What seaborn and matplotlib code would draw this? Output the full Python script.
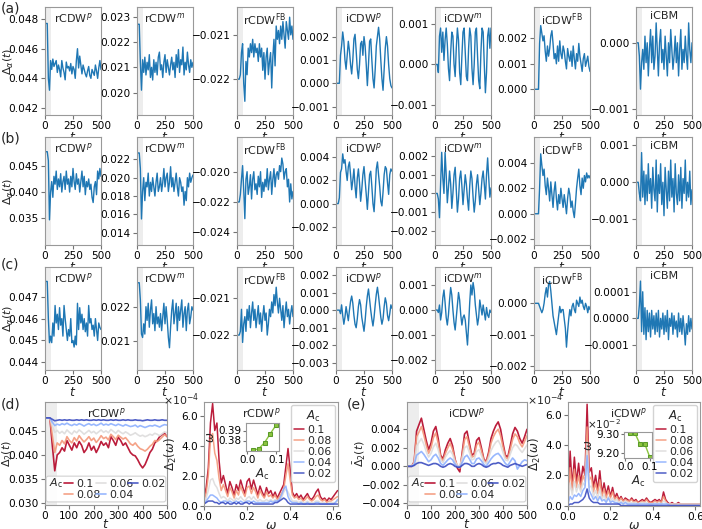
import numpy as np
import pandas as pd
import seaborn as sns
import matplotlib.pyplot as plt
from matplotlib.patches import FancyBboxPatch
from matplotlib.ticker import FuncFormatter

# sampling grids
t = np.arange(0, 501, 10)
omega = np.round(np.arange(0, 63) * 0.01, 2)

# ---------------- rows (a)-(c): values in units of 1e-4 (c7 in 1e-5) ----------------
a1 = [477, 477, 477, 440, 432, 452, 446, 453, 448, 450,
      452, 444, 449, 446, 441, 452, 447, 444, 439, 451,
      447, 448, 445, 450, 443, 448, 446, 440, 452, 460,
      447, 455, 449, 443, 449, 446, 443, 441, 445, 448,
      442, 440, 446, 444, 442, 449, 445, 440, 447, 452,
      446]
a2 = [227, 227, 227, 212, 201, 213, 208, 214, 207, 212,
      209, 215, 206, 210, 205, 213, 208, 212, 207, 214,
      216, 209, 211, 206, 212, 215, 208, 213, 210, 207,
      211, 214, 209, 212, 206, 215, 210, 217, 208, 213,
      211, 218, 207, 212, 209, 216, 211, 208, 213, 210,
      212]
a3 = [-220, -220, -220, -219, -214, -212, -221, -225, -216, -219,
      -213, -215, -212, -214, -211, -215, -212, -214, -213, -216,
      -212, -215, -213, -218, -214, -220, -215, -213, -219, -216,
      -214, -222, -215, -211, -217, -208, -211, -209, -212, -208,
      -211, -207, -210, -213, -207, -209, -211, -206, -210, -208,
      -211]
a4 = [0, 0, 0, 0, 12, 16, 22, 18, 10, 6,
      12, 18, 14, 8, 4, 10, 19, 21, 14, 6,
      2, 8, 17, 18, 12, 20, 16, 8, -1, 8,
      18, 19, 10, 2, -2, 6, 16, 20, 24, 19,
      10, 2, -3, 6, 15, 20, 16, 8, 2, -1,
      -2]
a5 = [0, 0, 0, -2, 7, 9, 3, 8, 1, 6,
      9, 5, -1, -4, 3, 8, 7, 0, -3, 4,
      9, 6, -2, -5, 2, 8, 9, 3, -3, -4,
      4, 9, 7, -1, -5, 0, 8, 9, 2, -4,
      -6, 3, 9, 8, 0, -7, -2, 7, 9, 4,
      9]
a6 = [0, 0, 0, 0, 0, 18, 25, 22, 19, 21,
      15, 11, 17, 13, 16, 21, 23, 18, 12, 14,
      10, 17, 11, 19, 14, 12, 17, 15, 11, 8,
      16, 13, 11, 15, 9, 17, 12, 8, 14, 11,
      18, 13, 10, 7, 12, 14, 9, 11, 13, 9,
      7]
a7 = [0, 0, 0, -2, -7, -3, -1, -4, 1, -3,
      0, -5, -1, 2, -3, 1, -4, -2, 3, -1,
      -5, 0, 2, -3, -1, -4, 1, -2, -5, 0,
      -3, 2, -1, -4, -2, 1, -3, 0, -5, -1,
      2, -4, -1, -3, 1, -2, -4, 3, -1, -3,
      0]

b1 = [477, 477, 477, 460, 347, 400, 420, 390, 430, 415,
      440, 405, 425, 410, 435, 400, 420, 430, 405, 440,
      415, 425, 400, 430, 410, 445, 420, 405, 435, 415,
      425, 400, 420, 440, 410, 430, 395, 420, 410, 425,
      405, 415, 390, 380, 410, 420, 395, 440, 425, 445,
      430]
b2 = [227, 227, 227, 210, 155, 185, 200, 175, 195, 190,
      205, 180, 195, 185, 200, 190, 180, 195, 205, 185,
      190, 200, 185, 195, 210, 190, 200, 205, 185, 195,
      212, 190, 200, 185, 195, 205, 190, 180, 200, 195,
      185, 190, 170, 185, 175, 200, 190, 205, 195, 200,
      203]
b3 = [-220, -220, -220, -215, -205, -196, -212, -231, -205, -200,
      -215, -210, -202, -218, -205, -200, -212, -208, -215, -203,
      -210, -200, -217, -207, -213, -205, -210, -198, -212, -205,
      -200, -215, -205, -198, -210, -202, -200, -205, -196, -200,
      -191, -195, -205, -200, -198, -210, -205, -220, -208, -218,
      -213]
b4 = [0, 0, 0, 5, 27, 30, 43, 35, 38, 28,
      20, 32, 36, 25, 12, 20, 30, 15, 5, 22,
      30, 18, 2, 12, 25, 32, 20, 8, -5, 10,
      25, 28, 15, 0, -7, 10, 30, 36, 25, 15,
      2, -2, 10, 25, 32, 30, 18, 8, 25, 30,
      28]
b5 = [0, 0, 0, -3, -13, 5, 22, 8, 0, 22,
      10, -5, 3, 12, 5, -8, 0, 10, 14, 2,
      -10, -3, 8, 12, 4, -6, 2, 10, 5, -3,
      -9, 4, 12, 8, -2, -10, -4, 5, 10, 2,
      -6, 0, 8, 12, 5, -3, 10, 19, 8, -2,
      3]
b6 = [0, 0, 0, 0, 0, 20, 47, 38, 30, 35,
      22, 15, 28, 20, 10, 25, 15, 5, 18, 25,
      12, 3, 15, 8, 20, 12, 5, 15, 8, 0,
      12, 20, 15, 5, 10, 2, -3, 8, 20, 28,
      35, 22, 15, 28, 20, 30, 25, 32, 28, 30,
      28]
b7 = [0, 0, 0, -3, -5, 8, -4, 3, -6, 2,
      -5, 5, -3, 1, -7, 4, -2, -5, 6, -8,
      2, -3, 5, -6, 0, -9, 4, -2, -7, 3,
      -5, 6, -4, 1, -8, 5, -3, -6, 2, -5,
      4, -7, 1, -3, 6, -5, 0, -4, 3, -6,
      -2]

c1 = [477, 477, 477, 460, 449, 452, 449, 458, 452, 466,
      458, 462, 455, 465, 457, 460, 452, 466, 460, 455,
      450, 455, 452, 460, 449, 450, 447, 452, 448, 467,
      455, 465, 458, 462, 455, 460, 454, 458, 452, 466,
      458, 460, 455, 457, 452, 460, 455, 450, 458, 456,
      455]
c2 = [227, 227, 227, 222, 212, 211, 215, 212, 220, 216,
      221, 214, 219, 222, 215, 218, 213, 220, 215, 217,
      214, 218, 213, 217, 221, 215, 220, 216, 211, 208,
      214, 219, 222, 215, 218, 221, 213, 220, 216, 219,
      222, 214, 218, 220, 213, 219, 221, 215, 217, 220,
      219]
c3 = [-220, -220, -220, -219, -213, -222, -217, -215, -219, -213,
      -216, -212, -218, -214, -211, -216, -213, -218, -215, -212,
      -217, -214, -219, -215, -212, -216, -214, -220, -217, -213,
      -215, -211, -214, -209, -212, -207, -211, -214, -210, -213,
      -216, -212, -218, -214, -211, -215, -213, -217, -214, -212,
      -215]
c4 = [0, 0, 0, 0, -2, 3, -3, -8, -4, 2,
      -2, -6, 0, 5, 8, 4, -3, -8, -10, -5,
      2, 6, 3, -4, -8, -12, -6, 2, 8, 12,
      6, 0, -5, -9, -4, 3, 9, 13, 8, 2,
      -4, -8, -5, 2, 7, 4, -3, -6, -2, 3,
      1]
c5 = [0, 0, 0, -1, 2, -4, -1, 5, 8, 3,
      -3, -6, -2, 4, 9, 6, 0, -5, -8, -3,
      2, 7, 4, -2, -6, -3, -2, -4, -9, -14,
      -6, 3, 10, 6, 11, 8, 2, -2, -6, -3,
      4, 1, -2, 2, -1, -4, 1, -2, -3, 0,
      -1]
c6 = [0, 0, 0, 0, 0, -1, -2, -3, -2, 0,
      3, 5, 2, 6, 7, 4, 0, -4, -6, -8,
      -10, -7, -4, -1, -3, -2, -2, -5, -8, -14,
      -9, -5, -2, -4, -1, 0, -2, -3, 1, 0,
      -1, 2, 0, 1, -1, -2, 0, -1, -3, -1,
      -2]
c7 = [0, 0, 0, 5, 14, -5, 10, -6, 4, -8,
      3, -5, 2, -7, 3, -4, 1, -6, 2, -5,
      3, -7, 0, -4, 2, -6, 1, -5, 3, -8,
      0, -3, 2, -6, 1, -4, -1, -7, 2, -5,
      0, -6, 1, -4, -10, -2, -6, 1, -5, 0,
      -4]

titles = ['rCDW$^{p}$', 'rCDW$^{m}$', 'rCDW$^{\\mathrm{FB}}$', 'iCDW$^{p}$',
          'iCDW$^{m}$', 'iCDW$^{\\mathrm{FB}}$', 'iCBM']
rows = [[a1, a2, a3, a4, a5, a6, a7],
        [b1, b2, b3, b4, b5, b6, b7],
        [c1, c2, c3, c4, c5, c6, c7]]
units = [[1e-4] * 7, [1e-4] * 7, [1e-4] * 6 + [1e-5]]

# ---------------- rows (d),(e): amplitude sweep ----------------
A_labels = ['0.1', '0.08', '0.06', '0.04', '0.02']
A_vals = [0.02, 0.04, 0.06, 0.08, 0.1]

# rCDW^p time series, units 1e-4
d_01 = [477, 477, 477, 420, 367, 400, 405, 415, 408, 430,
        420, 410, 425, 415, 428, 420, 405, 412, 425, 410,
        418, 405, 415, 428, 420, 425, 415, 438, 430, 420,
        437, 430, 420, 425, 415, 405, 400, 398, 390, 380,
        373, 380, 392, 405, 412, 425, 430, 438, 442, 445,
        438]
d_008 = [477, 477, 477, 440, 405, 425, 420, 430, 423, 438,
         430, 425, 436, 429, 440, 433, 427, 432, 438, 430,
         435, 426, 432, 440, 434, 437, 431, 443, 438, 432,
         441, 437, 433, 436, 430, 423, 420, 425, 418, 413,
         411, 408, 412, 418, 422, 430, 428, 432, 437, 442,
         439]
d_006 = [477, 477, 477, 460, 447, 451, 445, 449, 444, 452,
         447, 443, 450, 446, 452, 448, 443, 447, 451, 446,
         449, 444, 448, 452, 447, 450, 446, 453, 449, 445,
         451, 447, 444, 448, 445, 441, 443, 446, 442, 439,
         441, 438, 440, 443, 441, 445, 443, 440, 444, 448,
         446]
d_004 = [477, 477, 477, 468, 461, 464, 462, 465, 463, 466,
         463, 461, 464, 462, 465, 463, 460, 463, 465, 462,
         464, 461, 463, 466, 462, 464, 462, 465, 463, 461,
         464, 462, 460, 463, 461, 459, 460, 462, 458, 461,
         459, 457, 459, 461, 460, 462, 460, 458, 461, 463,
         462]
d_002 = [477, 477, 477, 474, 471, 472, 473, 472, 473, 472,
         473, 472, 472, 473, 472, 473, 472, 473, 472, 472,
         473, 472, 473, 472, 473, 472, 472, 473, 472, 473,
         472, 472, 473, 472, 473, 472, 472, 473, 472, 472,
         471, 472, 473, 472, 472, 473, 472, 472, 473, 472,
         472]

# iCDW^p time series, units 1e-4
e_01 = [0, 0, 0, 5, 38, 45, 52, 40, 28, 18,
        25, 38, 43, 30, 12, 8, 18, 25, 30, 22,
        8, -2, -6, 15, 35, 38, 25, 12, 14, 28,
        31, 20, 8, 5, 15, 30, 38, 44, 48, 40,
        25, 12, 10, 22, 35, 42, 38, 30, 25, 32,
        40]
e_008 = [0, 0, 0, 4, 32, 37, 43, 34, 23, 14,
         20, 31, 36, 25, 10, 6, 14, 20, 25, 18,
         7, 1, -2, 12, 29, 32, 21, 10, 11, 23,
         26, 17, 7, 4, 12, 25, 32, 37, 40, 33,
         21, 10, 8, 18, 29, 35, 32, 25, 21, 27,
         33]
e_006 = [0, 0, 0, 3, 22, 26, 30, 24, 16, 10,
         14, 21, 25, 18, 7, 4, 10, 14, 17, 13,
         5, 1, 0, 9, 20, 22, 15, 7, 8, 16,
         18, 12, 5, 3, 9, 17, 22, 26, 28, 23,
         15, 7, 6, 13, 20, 24, 22, 18, 15, 19,
         23]
e_004 = [0, 0, 0, 2, 12, 14, 16, 13, 9, 5,
         7, 11, 13, 9, 3, 1, 4, 7, 9, 7,
         2, 0, -1, 4, 10, 12, 8, 3, 3, 8,
         9, 6, 2, 0, 4, 8, 11, 13, 14, 11,
         7, 3, 1, 5, 9, 6, -3, 1, 5, 7,
         6]
e_002 = [0, 0, 0, 1, 3, 4, 4, 3, 2, 1,
         2, 3, 3, 2, 0, -1, 0, 2, 3, 2,
         0, -1, -1, 1, 3, 3, 2, 0, 0, 2,
         3, 2, 0, -1, 0, 2, 3, 3, 4, 3,
         1, 0, -1, 1, 2, 3, 2, 1, 0, 1,
         2]

# spectra, units 1e-5
sd_01 = [5, 12, 25, 55, 68, 50, 55, 30, 15, 20,
         14, 8, 16, 12, 7, 14, 10, 17, 12, 8,
         16, 18, 11, 17, 12, 7, 13, 9, 6, 12,
         8, 10, 6, 9, 5, 8, 11, 14, 26, 38,
         24, 9, 6, 8, 5, 7, 4, 6, 8, 5,
         4, 6, 9, 11, 6, 4, 5, 3, 5, 4,
         6, 8, 10]
sd_008 = [3, 8, 20, 45, 48, 35, 30, 18, 10, 14,
          10, 6, 12, 9, 5, 10, 7, 13, 9, 6,
          12, 13, 8, 12, 9, 5, 10, 7, 5, 9,
          6, 7, 5, 7, 4, 6, 8, 11, 20, 28,
          17, 7, 5, 6, 4, 5, 3, 4, 6, 4,
          3, 4, 6, 7, 4, 3, 4, 2, 3, 3,
          4, 5, 6]
sd_006 = [2, 5, 10, 17, 18, 14, 12, 8, 5, 6,
          5, 3, 5, 4, 3, 5, 4, 6, 4, 3,
          5, 6, 4, 6, 4, 3, 4, 3, 3, 4,
          3, 4, 3, 4, 3, 4, 5, 9, 11, 9,
          6, 3, 3, 3, 2, 3, 2, 2, 3, 2,
          2, 2, 3, 3, 2, 2, 2, 1, 2, 2,
          2, 2, 3]
sd_004 = [1, 3, 5, 7, 7, 6, 5, 3, 2, 3,
          3, 2, 3, 2, 2, 3, 2, 3, 2, 2,
          3, 3, 2, 3, 2, 2, 2, 2, 2, 2,
          2, 3, 2, 3, 3, 4, 7, 11, 13, 6,
          3, 2, 2, 2, 1, 2, 1, 1, 2, 1,
          1, 1, 2, 2, 1, 1, 1, 1, 1, 1,
          1, 2, 4]
sd_002 = [1, 2, 3, 3, 3, 2, 2, 1, 2, 2,
          1, 2, 1, 1, 2, 1, 2, 1, 1, 2,
          2, 1, 2, 1, 1, 1, 1, 1, 1, 1,
          1, 1, 1, 2, 2, 3, 4, 5, 4, 2,
          1, 1, 1, 1, 1, 1, 1, 1, 1, 1,
          1, 1, 1, 1, 1, 1, 1, 1, 1, 1,
          1, 1, 1]

se_01 = [2, 36, 12, 32, 15, 28, 14, 26, 20, 67,
         22, 25, 12, 20, 10, 23, 8, 15, 7, 13,
         6, 12, 5, 8, 4, 6, 3, 5, 4, 3,
         5, 3, 4, 2, 3, 4, 3, 5, 3, 2,
         3, 4, 3, 4, 2, 9, 4, 2, 1, 2,
         1, 1, 2, 1, 1, 1, 1, 1, 1, 1,
         1, 1, 1]
se_008 = [2, 25, 10, 24, 12, 20, 11, 20, 16, 52,
          17, 19, 9, 15, 8, 17, 6, 11, 5, 10,
          5, 9, 4, 6, 3, 5, 3, 4, 3, 3,
          4, 2, 3, 2, 2, 3, 2, 4, 2, 2,
          2, 3, 2, 3, 2, 6, 3, 1, 1, 1,
          1, 1, 1, 1, 1, 1, 1, 1, 1, 1,
          1, 1, 1]
se_006 = [1, 15, 7, 16, 9, 14, 9, 15, 13, 42,
          12, 13, 6, 10, 5, 11, 4, 7, 3, 6,
          3, 5, 3, 4, 2, 3, 2, 3, 2, 2,
          2, 2, 2, 1, 2, 2, 2, 2, 1, 1,
          1, 2, 1, 2, 1, 3, 2, 1, 1, 1,
          1, 1, 1, 1, 1, 1, 1, 1, 1, 1,
          1, 1, 1]
se_004 = [1, 6, 4, 7, 6, 8, 6, 10, 12, 33,
          10, 7, 4, 6, 3, 6, 3, 4, 2, 5,
          2, 3, 2, 2, 1, 2, 1, 2, 1, 1,
          1, 1, 1, 1, 1, 1, 1, 1, 1, 1,
          1, 1, 1, 1, 1, 1, 1, 1, 0, 0,
          0, 0, 0, 0, 0, 0, 0, 0, 0, 0,
          0, 0, 0]
se_002 = [0, 1, 1, 2, 2, 2, 3, 4, 6, 11,
          5, 3, 2, 2, 2, 1, 1, 1, 1, 1,
          1, 1, 1, 1, 1, 0, 0, 0, 0, 0,
          0, 0, 0, 0, 0, 0, 0, 0, 0, 0,
          0, 0, 0, 0, 0, 0, 0, 0, 0, 0,
          0, 0, 0, 0, 0, 0, 0, 0, 0, 0,
          0, 0, 0]

# peak frequency vs A_c (insets)
w_peak_r = [0.3702, 0.3718, 0.3780, 0.3870, 0.3955]
w_peak_i = [0.09305, 0.09305, 0.09248, 0.09248, 0.09178]

# ---------------- axis settings ----------------
ylims = [
    [(0.04153, 0.04881), (0.01912, 0.02338), (-0.02281, -0.02037), (-0.00136, 0.00327),
     (-0.00125, 0.00142), (-0.00101, 0.00323), (-0.00109, 0.00054)],
    [(0.0299, 0.0505), (0.01266, 0.02444), (-0.02484, -0.01771), (-0.00358, 0.00576),
     (-0.00276, 0.00302), (-0.00245, 0.00602), (-0.00169, 0.00122)],
    [(0.04365, 0.04836), (0.02015, 0.02316), (-0.02295, -0.02015), (-0.0034, 0.00245),
     (-0.0024, 0.00172), (-0.00213, 0.00116), (-0.000194, 0.000193)],
]
yticks = [
    [[0.042, 0.044, 0.046, 0.048], [0.020, 0.021, 0.022, 0.023], [-0.022, -0.021],
     [-0.001, 0, 0.001, 0.002], [-0.001, 0, 0.001], [0, 0.001, 0.002], [-0.001, 0]],
    [[0.035, 0.040, 0.045], [0.014, 0.016, 0.018, 0.020, 0.022], [-0.024, -0.022, -0.020],
     [-0.002, 0, 0.002, 0.004], [-0.002, -0.001, 0, 0.001, 0.002], [-0.002, 0, 0.002, 0.004],
     [-0.001, 0, 0.001]],
    [[0.044, 0.045, 0.046, 0.047], [0.021, 0.022], [-0.022, -0.021],
     [-0.003, -0.002, -0.001, 0, 0.001, 0.002], [-0.002, -0.001, 0, 0.001],
     [-0.002, -0.001, 0], [-0.0001, 0, 0.0001]],
]

W, H = 702, 529
col_left = [45, 137, 237, 336, 435, 534, 636]
col_w = 56
row_span = [(7, 115), (137, 245), (267, 370)]

sns.set_theme(style='ticks', rc={
    'axes.edgecolor': '0.6', 'axes.linewidth': 0.8,
    'xtick.major.size': 3, 'ytick.major.size': 3,
    'xtick.major.width': 0.8, 'ytick.major.width': 0.8,
    'xtick.color': '0.45', 'ytick.color': '0.45',
    'xtick.labelcolor': 'black', 'ytick.labelcolor': 'black',
    'xtick.labelsize': 7.6, 'ytick.labelsize': 7.6,
    'xtick.major.pad': 1.5, 'ytick.major.pad': 1.5,
    'axes.labelsize': 9, 'legend.fontsize': 7.8,
})
plt.rcParams['font.family'] = ['DejaVu Sans']
plt.rcParams['mathtext.fontset'] = 'dejavusans'

blue = '#1f77b4'
# full coolwarm range (seaborn's sampling would skip the dark ends)
cw = plt.get_cmap('coolwarm')(np.linspace(0, 1, 5))
palette = dict(zip(['0.02', '0.04', '0.06', '0.08', '0.1'], [tuple(c) for c in cw]))
green = '#8cc43f'


def px_axes(fig, left, top, right, bottom):
    return fig.add_axes([left / W, 1 - bottom / H, (right - left) / W, (bottom - top) / H])


def num_fmt(dec, scale=1.0):
    return FuncFormatter(lambda v, p: f'{v * scale:.{dec}f}'.replace('-', '\u2212'))


def small_panel(ax, y, title, ylim, ticks):
    ax.axvspan(0, 50, color='0.93', lw=0, zorder=0)
    sns.lineplot(x=t, y=y, ax=ax, color=blue, linewidth=1.0)
    ax.set_xlim(0, 500)
    ax.set_xticks([0, 250, 500])
    ax.set_ylim(ylim)
    ax.set_yticks(ticks)
    dec = 4 if max(abs(v) for v in ticks) < 0.0005 else 3
    ax.yaxis.set_major_formatter(num_fmt(dec))
    ax.set_xlabel('$t$', labelpad=0)
    ax.set_ylabel('')
    ax.text(0.5, 0.96, title, transform=ax.transAxes, ha='center', va='top', fontsize=8)


def long_frame(series, x, unit, xname):
    return pd.DataFrame({
        xname: np.tile(x, len(series)),
        'val': np.concatenate([np.asarray(s) * unit for s in series]),
        'A': np.repeat(A_labels, len(x)),
    })


def sweep_time(ax, series, title, ylim, ticks, label_x):
    ax.axvspan(0, 50, color='0.93', lw=0, zorder=0)
    df = long_frame(series, t, 1e-4, 't')
    sns.lineplot(data=df, x='t', y='val', hue='A', hue_order=A_labels, palette=palette,
                 ax=ax, linewidth=1.2, alpha=0.9, legend=False)
    ax.set_xlim(0, 500)
    ax.set_xticks(range(0, 501, 100))
    ax.set_ylim(ylim)
    ax.set_yticks(ticks)
    ax.yaxis.set_major_formatter(num_fmt(3))
    ax.set_xlabel('$t$', labelpad=-2.5)
    ax.set_ylabel(r'$\bar{\Delta}_2(t)$', fontsize=8)
    ax.yaxis.set_label_coords(label_x, 0.5)
    ax.text(0.5, 0.96, title, transform=ax.transAxes, ha='center', va='top', fontsize=8)
    # legend box spanning the width, with the A_c tag on its left
    box = FancyBboxPatch((0.01, 0.03), 0.98, 0.25, boxstyle='round,pad=0,rounding_size=0.02',
                         transform=ax.transAxes, facecolor='white', edgecolor='0.8',
                         linewidth=0.8, alpha=0.9, zorder=4)
    ax.add_patch(box)
    ax.text(0.035, 0.215, r'$A_\mathrm{c}$', transform=ax.transAxes, ha='left', va='center',
            fontsize=8, zorder=6)
    ax.legend(ax.get_lines()[:5], A_labels, ncol=3, loc='lower left',
              bbox_to_anchor=(0.14, 0.035, 0.86, 0.24), mode='expand', borderaxespad=0,
              handlelength=0.9, handletextpad=0.3, columnspacing=0.2, labelspacing=0.05,
              borderpad=0.15, fontsize=7.8, frameon=False).set_zorder(5)


def spectrum(ax, series, title, title_x, ymax):
    df = long_frame(series, omega, 1e-5, 'w')
    sns.lineplot(data=df, x='w', y='val', hue='A', hue_order=A_labels, palette=palette,
                 ax=ax, linewidth=1.1, alpha=0.9, legend=False)
    ax.set_xlim(0, 0.622)
    ax.set_xticks([0, 0.2, 0.4, 0.6])
    ax.xaxis.set_major_formatter(num_fmt(1))
    ax.set_ylim(-0.03e-4, ymax)
    ax.set_yticks([0, 2e-4, 4e-4, 6e-4])
    ax.yaxis.set_major_formatter(num_fmt(1, 1e4))
    ax.text(-0.04, 1.02, r'$\times10^{-4}$', transform=ax.transAxes, ha='right', va='center',
            fontsize=7.8)
    ax.set_xlabel(r'$\omega$', labelpad=-2.5)
    ax.set_ylabel(r'$\Delta_2(\omega)$', labelpad=1, fontsize=8.5)
    ax.text(title_x, 0.96, title, transform=ax.transAxes, ha='center', va='top', fontsize=8)
    ax.legend(ax.get_lines()[:5], A_labels, title=r'$A_\mathrm{c}$', loc='upper right',
              handlelength=0.9, handletextpad=0.3, labelspacing=0.1, borderpad=0.3,
              fontsize=7.8, title_fontsize=8.5, framealpha=0.85, edgecolor='0.8',
              borderaxespad=0.3)


def inset(ax, w_peak, ticks, dec, scale):
    sns.lineplot(x=A_vals, y=w_peak, ax=ax, color=green, linewidth=1.0, marker='s',
                 markersize=3, markeredgecolor='#5a9a2a')
    ax.set_xlim(-0.005, 0.11)
    ax.set_xticks([0, 0.1])
    ax.xaxis.set_major_formatter(num_fmt(1))
    ax.set_yticks(ticks)
    ax.yaxis.set_major_formatter(num_fmt(dec, scale))
    ax.tick_params(labelsize=7.5, length=2, pad=1)
    ax.set_xlabel(r'$A_\mathrm{c}$', fontsize=8.5, labelpad=1)
    ax.set_ylabel(r'$\omega$', fontsize=8.5, labelpad=1)


fig = plt.figure(figsize=(W / 100, H / 100), dpi=100)

for r, (top, bottom) in enumerate(row_span):
    for c in range(7):
        ax = px_axes(fig, col_left[c], top, col_left[c] + col_w, bottom)
        y = np.asarray(rows[r][c]) * units[r][c]
        small_panel(ax, y, titles[c], ylims[r][c], yticks[r][c])
        if c == 0:
            ax.set_ylabel(r'$\bar{\Delta}_{\alpha}(t)$', fontsize=8)
            ax.yaxis.set_label_coords(-0.54, 0.5)

ax_d = px_axes(fig, 45, 402, 167, 505)
sweep_time(ax_d, [d_01, d_008, d_006, d_004, d_002], 'rCDW$^{p}$',
           (0.0296, 0.0510), [0.030, 0.035, 0.040, 0.045], -0.25)
ax_ds = px_axes(fig, 204, 402, 338, 506)
spectrum(ax_ds, [sd_01, sd_008, sd_006, sd_004, sd_002], 'rCDW$^{p}$', 0.43, 6.9e-4)
ax_di = px_axes(fig, 246, 423, 279, 451)
inset(ax_di, w_peak_r, [0.38, 0.39], 2, 1.0)
ax_di.set_ylim(0.3695, 0.3975)

ax_e = px_axes(fig, 407, 402, 527, 505)
sweep_time(ax_e, [e_01, e_008, e_006, e_004, e_002], 'iCDW$^{p}$',
           (-0.00418, 0.00695), [-0.004, -0.002, 0.0, 0.002, 0.004], -0.33)
ax_es = px_axes(fig, 568, 402, 700, 506)
spectrum(ax_es, [se_01, se_008, se_006, se_004, se_002], 'iCDW$^{p}$', 0.46, 6.85e-4)
ax_ei = px_axes(fig, 624, 432, 652, 458)
inset(ax_ei, w_peak_i, [0.092, 0.093], 2, 100)
ax_ei.set_ylim(0.09170, 0.09312)
ax_ei.text(-0.1, 1.02, r'$\times10^{-2}$', transform=ax_ei.transAxes, ha='right',
           va='bottom', fontsize=7.5)

for label, x, y in [('(a)', 1, 2), ('(b)', 1, 132), ('(c)', 1, 258), ('(d)', 1, 397), ('(e)', 347, 397)]:
    fig.text(x / W, 1 - y / H, label, ha='left', va='top', fontsize=10)

fig.savefig('out.png', dpi=100)
